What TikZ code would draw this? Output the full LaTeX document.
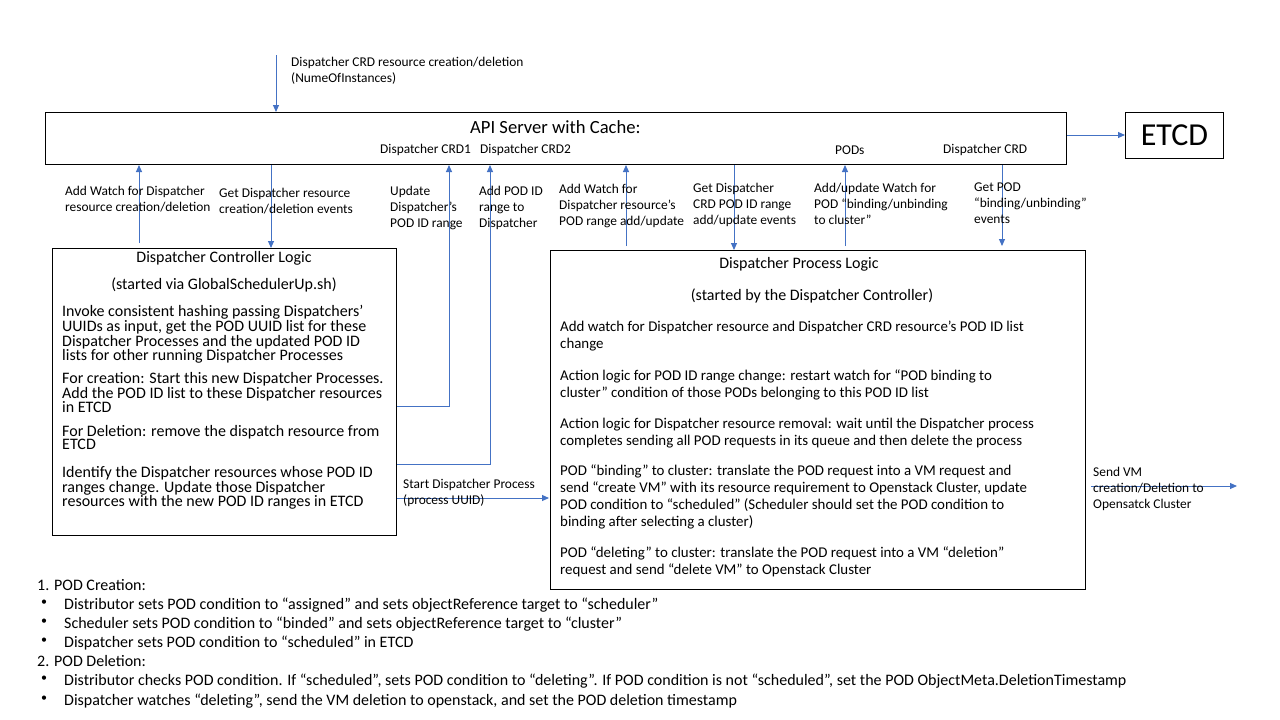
\documentclass[tikz,border=0pt]{standalone}
\usepackage{fontspec}
\setmainfont{Carlito}
\usetikzlibrary{arrows.meta}
\definecolor{arrowblue}{HTML}{4472C4}
\begin{document}
\begin{tikzpicture}[x=1pt,y=-1pt,
  box/.style={draw=black, line width=1pt, inner sep=0pt, anchor=north west},
  arr/.style={draw=arrowblue, line width=1pt, -{Triangle[length=7pt,width=6pt]}},
  lbl/.style={anchor=north west, inner sep=0pt, align=left, font=\fontsize{13.4}{16}\selectfont},
  ctxt/.style={anchor=north west, inner sep=0pt, align=left, font=\fontsize{16}{13.5}\selectfont},
  ptxt/.style={anchor=north west, inner sep=0pt, align=left, font=\fontsize{14.9}{17}\selectfont},
  ttl/.style={inner sep=0pt, font=\fontsize{16}{18}\selectfont},
  btxt/.style={anchor=north west, inner sep=0pt, font=\fontsize{16}{19}\selectfont}
]
\useasboundingbox[fill=white] (0,0) rectangle (1280,720);

% boxes
\node[box, minimum width=1021pt, minimum height=52pt] (api) at (45,112) {};
\node[box, minimum width=98pt, minimum height=46pt] (etcd) at (1125,112) {};
\node[box, minimum width=344pt, minimum height=287pt] (ctrl) at (52,248) {};
\node[box, minimum width=535pt, minimum height=339pt] (proc) at (550,250) {};

% box texts
\node[inner sep=0pt, anchor=west, font=\fontsize{18.6}{20}\selectfont] (apit) at (470,127) {API Server with Cache:};
\node[inner sep=0pt, font=\fontsize{32}{34}\selectfont] (etcdt) at (etcd.center) {ETCD};
\node[lbl] (crd1) at (380,144.2) {Dispatcher CRD1};
\node[lbl] (crd2) at (480,144.2) {Dispatcher CRD2};
\node[lbl] (pods) at (835,145.2) {PODs};
\node[lbl] (crd) at (943,144.2) {Dispatcher CRD};

\node[ttl] (ctrlt) at (224,258) {Dispatcher Controller Logic};
\node[ttl] (ctrls) at (224,285) {(started via GlobalSchedulerUp.sh)};
\node[ctxt] (cp1) at (62,305) {Invoke consistent hashing passing Dispatchers’\\UUIDs as input, get the POD UUID list for these\\Dispatcher Processes and the updated POD ID\\lists for other running Dispatcher Processes};
\node[ctxt] (cp2) at (62,372) {For creation: Start this new Dispatcher Processes.\\Add the POD ID list to these Dispatcher resources\\in ETCD};
\node[ctxt] (cp3) at (62,425) {For Deletion: remove the dispatch resource from\\ETCD};
\node[ctxt] (cp4) at (62,466) {Identify the Dispatcher resources whose POD ID\\ranges change. Update those Dispatcher\\resources with the new POD ID ranges in ETCD};

\node[ttl] (proct) at (799,264) {Dispatcher Process Logic};
\node[ttl] (procs) at (812,296) {(started by the Dispatcher Controller)};
\node[ptxt] (pp1) at (560,320.6) {Add watch for Dispatcher resource and Dispatcher CRD resource’s POD ID list\\change};
\node[ptxt] (pp2) at (560,369.6) {Action logic for POD ID range change: restart watch for “POD binding to\\cluster” condition of those PODs belonging to this POD ID list};
\node[ptxt] (pp3) at (560,417.6) {Action logic for Dispatcher resource removal: wait until the Dispatcher process\\completes sending all POD requests in its queue and then delete the process};
\node[ptxt] (pp4) at (560,464.6) {POD “binding” to cluster: translate the POD request into a VM request and\\send “create VM” with its resource requirement to Openstack Cluster, update\\POD condition to “scheduled” (Scheduler should set the POD condition to\\binding after selecting a cluster)};
\node[ptxt] (pp5) at (560,546.6) {POD “deleting” to cluster: translate the POD request into a VM “deletion”\\request and send “delete VM” to Openstack Cluster};

% connector x positions
\coordinate (topstart) at (276,55);
\coordinate (xa) at (139,0);
\coordinate (xb) at (271,0);
\coordinate (xc) at (449,406);
\coordinate (xd) at (490,464);
\coordinate (xe) at (626,0);
\coordinate (xf) at (734,0);
\coordinate (xg) at (845,0);
\coordinate (xh) at (1002,0);
\coordinate (ye) at (0,135);
\coordinate (ys) at (0,498);
\coordinate (vend) at (1237,486);

% connectors
\draw[arr] (topstart) -- (api.north -| topstart);
\draw[arr] (api.east |- ye) -- (etcd.west |- ye);
\draw[arr, shorten <=5pt] (ctrl.north -| xa) -- (api.south -| xa);
\draw[arr] (api.south -| xb) -- (ctrl.north -| xb);
\draw[arr] (ctrl.east |- xc) -| (api.south -| xc);
\draw[arr] (ctrl.east |- xd) -| (api.south -| xd);
\draw[arr, shorten <=4pt] (proc.north -| xe) -- (api.south -| xe);
\draw[arr] (api.south -| xf) -- (proc.north -| xf);
\draw[arr, shorten <=4pt] (proc.north -| xg) -- (api.south -| xg);
\draw[arr, shorten >=4pt] (api.south -| xh) -- (proc.north -| xh);
\draw[arr, shorten >=1pt] (ctrl.east |- ys) -- (proc.west |- ys);
\draw[arr, shorten <=5pt] (proc.east |- vend) -- (vend);

% connector labels
\node[lbl] (ltop) at (291,57.2) {Dispatcher CRD resource creation/deletion\\(NumeOfInstances)};
\node[lbl] (l1) at (65,186.2) {Add Watch for Dispatcher\\resource creation/deletion};
\node[lbl] (l2) at (219,188.2) {Get Dispatcher resource\\creation/deletion events};
\node[lbl] (l3) at (390,186.2) {Update\\Dispatcher’s\\POD ID range};
\node[lbl] (l4) at (479,186.2) {Add POD ID\\range to\\Dispatcher};
\node[lbl] (l5) at (559,184.2) {Add Watch for\\Dispatcher resource’s\\POD range add/update};
\node[lbl] (l6) at (693,183.2) {Get Dispatcher\\CRD POD ID range\\add/update events};
\node[lbl] (l7) at (814,183.2) {Add/update Watch for\\POD “binding/unbinding\\to cluster”};
\node[lbl] (l8) at (974,182.2) {Get POD\\“binding/unbinding”\\events};
\node[lbl] (lstart) at (403,479.2) {Start Dispatcher Process\\(process UUID)};
\node[lbl] (lvm) at (1093,467.2) {Send VM\\creation/Deletion to\\Opensatck Cluster};

% bottom notes
\node[btxt] (n1) at (37,579) {1. POD Creation:};
\node[btxt, font=\fontsize{12}{19}\selectfont] (b1) at (41,600) {•};
\node[btxt] (t1) at (64,598) {Distributor sets POD condition to “assigned” and sets objectReference target to “scheduler”};
\node[btxt, font=\fontsize{12}{19}\selectfont] (b2) at (41,619) {•};
\node[btxt] (t2) at (64,617) {Scheduler sets POD condition to “binded” and sets objectReference target to “cluster”};
\node[btxt, font=\fontsize{12}{19}\selectfont] (b3) at (41,638) {•};
\node[btxt] (t3) at (64,636) {Dispatcher sets POD condition to “scheduled” in ETCD};
\node[btxt] (n2) at (37,655) {2. POD Deletion:};
\node[btxt, font=\fontsize{12}{19}\selectfont] (b4) at (41,676) {•};
\node[btxt] (t4) at (64,674) {Distributor checks POD condition. If “scheduled”, sets POD condition to “deleting”. If POD condition is not “scheduled”, set the POD ObjectMeta.DeletionTimestamp};
\node[btxt, font=\fontsize{12}{19}\selectfont] (b5) at (41,696) {•};
\node[btxt] (t5) at (64,694) {Dispatcher watches “deleting”, send the VM deletion to openstack, and set the POD deletion timestamp};
\end{tikzpicture}
\end{document}
